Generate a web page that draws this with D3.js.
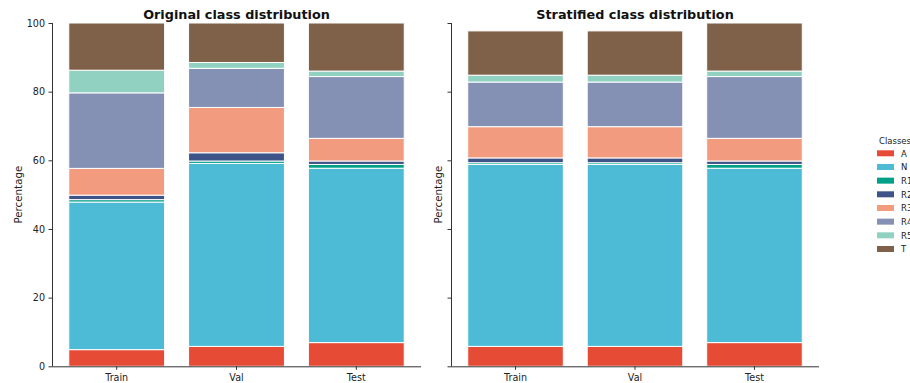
<!DOCTYPE html>
<html>
<head>
<meta charset="utf-8">
<script src="https://cdn.jsdelivr.net/npm/d3@7"></script>
<style>
  body { margin: 0; background: #fff; }
  svg { display: block; }
  text { font-family: "DejaVu Sans", sans-serif; }
</style>
</head>
<body>
<svg id="chart" width="910" height="383"></svg>
<script>
// ---- data ----
const splits = ["Train", "Val", "Test"];
const classes = ["A", "N", "R1", "R2", "R3", "R4", "R5", "T"];
const colors = ["#E64B35", "#4DBBD5", "#00A087", "#3C5488", "#F39B7F", "#8491B4", "#91D1C2", "#7E6148"];
// percentages per class for each split (Train, Val, Test)
const originalTrain = [4.85, 43.0, 0.7, 1.3, 7.8, 22.0, 6.6, 13.75];
const originalVal   = [5.8, 53.3, 0.7, 2.4, 13.2, 11.4, 1.7, 11.5];
const originalTest  = [6.9, 50.8, 1.1, 1.0, 6.6, 18.0, 1.6, 14.0];
const stratTrain    = [5.8, 53.0, 0.5, 1.4, 9.1, 13.0, 2.0, 12.9];
const stratVal      = [5.8, 53.0, 0.5, 1.4, 9.1, 13.0, 2.0, 12.9];
const stratTest     = [6.9, 50.8, 1.1, 1.0, 6.6, 18.0, 1.6, 14.0];
const yTicks = [0, 20, 40, 60, 80, 100];
const titles = ["Original class distribution", "Stratified class distribution"];

function toRows(arrs) {
  return splits.map((s, i) => {
    const o = { split: s };
    classes.forEach((c, j) => o[c] = arrs[i][j]);
    return o;
  });
}
const panels = [
  { title: titles[0], rows: toRows([originalTrain, originalVal, originalTest]), x0: 52, x1: 421, showLabels: true, labelX: 18 },
  { title: titles[1], rows: toRows([stratTrain, stratVal, stratTest]), x0: 451, x1: 819, showLabels: false, labelX: 438 }
];

const svg = d3.select("#chart");
const yTop = 23, yBot = 366.3;
const y = d3.scaleLinear().domain([0, 100]).range([yBot, yTop]);
const color = d3.scaleOrdinal().domain(classes).range(colors);
const stack = d3.stack().keys(classes);
const axisColor = "#333";

panels.forEach(p => {
  const x = d3.scaleBand().domain(splits).range([p.x0, p.x1]).paddingInner(0.2).paddingOuter(0.14);
  const g = svg.append("g");
  const series = stack(p.rows);
  g.selectAll("g.layer").data(series).join("g")
    .attr("class", "layer")
    .attr("fill", d => color(d.key))
    .selectAll("rect").data(d => d).join("rect")
    .attr("x", d => x(d.data.split))
    .attr("width", x.bandwidth())
    .attr("y", d => y(d[1]))
    .attr("height", d => y(d[0]) - y(d[1]))
    .attr("stroke", "#fff")
    .attr("stroke-width", 1);

  // y axis
  const ya = g.append("g").attr("transform", `translate(${p.x0},0)`)
    .call(d3.axisLeft(y).tickValues(yTicks).tickSize(3.5).tickPadding(3.5).tickFormat(p.showLabels ? d3.format("d") : () => ""));
  // x axis
  const xa = g.append("g").attr("transform", `translate(0,${yBot})`)
    .call(d3.axisBottom(x).tickSize(3.5).tickPadding(4));
  [ya, xa].forEach(a => {
    a.select(".domain").attr("stroke", axisColor).attr("stroke-width", 1);
    a.selectAll(".tick line").attr("stroke", axisColor);
    a.selectAll(".tick text").attr("fill", "#222").style("font-size", "9.6px").style("font-family", "DejaVu Sans");
  });
  ya.select(".domain").attr("d", `M0.5,${yTop}V${yBot}`);
  xa.select(".domain").attr("d", `M${p.x0},0.5H${p.x1}`);

  // title
  g.append("text")
    .attr("x", (p.x0 + p.x1) / 2).attr("y", 19)
    .attr("text-anchor", "middle")
    .style("font-size", "12.8px").style("font-weight", "bold").attr("fill", "#111")
    .text(p.title);
  // y label
  g.append("text")
    .attr("transform", `translate(${p.labelX},${(yTop + yBot) / 2}) rotate(-90)`)
    .attr("text-anchor", "middle")
    .attr("dy", "0.35em")
    .style("font-size", "10.3px").attr("fill", "#222")
    .text("Percentage");
});

// legend
const lg = svg.append("g");
lg.append("text").attr("x", 879).attr("y", 144)
  .style("font-size", "8.5px").attr("fill", "#222").text("Classes");
const items = lg.selectAll("g.item").data(classes).join("g")
  .attr("class", "item")
  .attr("transform", (d, i) => `translate(877,${153.3 + i * 13.67})`);
items.append("rect").attr("x", 0).attr("y", -3).attr("width", 17).attr("height", 6)
  .attr("fill", d => color(d));
items.append("text").attr("x", 24).attr("y", 3.3)
  .style("font-size", "8.5px").attr("fill", "#222").text(d => d);
</script>
</body>
</html>
